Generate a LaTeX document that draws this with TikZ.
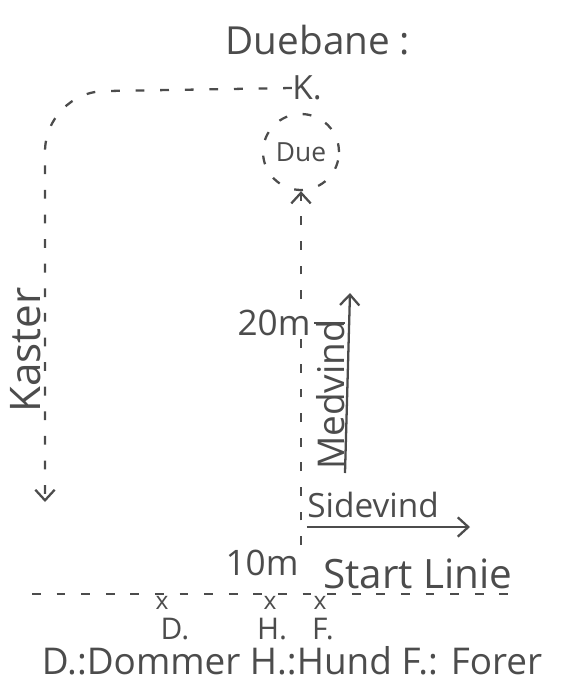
\documentclass[tikz,border=0pt]{standalone}
\usepackage{fontspec}
\setmainfont{Open Sans}
\usepackage{tikz}
\usetikzlibrary{arrows.meta}
\definecolor{ink}{gray}{0.3}
\tikzset{
  dash line/.style={draw=ink, line width=1.3pt, dash pattern=on 5pt off 9pt},
  ink line/.style={draw=ink, line width=1.3pt},
  lbl/.style={text=ink, inner sep=0pt, font=\fontsize{#1}{#1}\selectfont},
  >={Straight Barb[length=6pt,width=11pt]}
}
\begin{document}
\begin{tikzpicture}[x=0.02cm,y=-0.02cm]
\useasboundingbox (0,0) rectangle (581,684);
\node[lbl=22] (title) at (318,40) {Duebane :};
\node[lbl=19] (K) at (307,88) {K.};
\node[lbl=15, circle, dash line, minimum size=1.52cm] (due) at (301,152) {Due};

% Kaster
\coordinate (kend) at (45,502);
\draw[dash line,->,rounded corners=34pt] (K.west) -- (45,92) -- (kend);
\node[lbl=24, rotate=90] (kaster) at (26,350) {Kaster};

% 10m - 20m
\coordinate (start) at (301,545);
\draw[dash line,->] (start) -- (due.south);
\node[lbl=20, fill=white, inner sep=2pt] (m20) at (274,323) {20m};
\node[lbl=20] (m10) at (262,563) {10m};

% vind
\node[lbl=21, rotate=90, anchor=south] (medvind) at (345,395) {Medvind};
\coordinate (mv) at (350,293);
\draw[ink line,->] (medvind.south west |- mv) ++(0,180) -- (mv);
\draw[ink line] (m20.east) -- (medvind.south west |- m20.east);
\node[lbl=19] (sidevind) at (373,505) {Sidevind};
\coordinate (sv) at (470,527);
\draw[ink line,->] (sidevind.west |- sv) -- (sv);

% startlinie
\node[lbl=23] (startlinie) at (418,574) {Start Linie};
\coordinate (sl1) at (32,594);
\coordinate (sl2) at (515,594);
\draw[dash line] (sl1) -- (sl2);
\node[lbl=14] (xd) at (162,603) {x};
\node[lbl=14] (xh) at (270,603) {x};
\node[lbl=14] (xf) at (320,603) {x};
\node[lbl=17] (d) at (175,629) {D.};
\node[lbl=17] (h) at (272,629) {H.};
\node[lbl=17] (f) at (323,629) {F.};
\node[lbl=21] (legend) at (292,661) {D.:Dommer H.:Hund F.: Forer};
\end{tikzpicture}
\end{document}
